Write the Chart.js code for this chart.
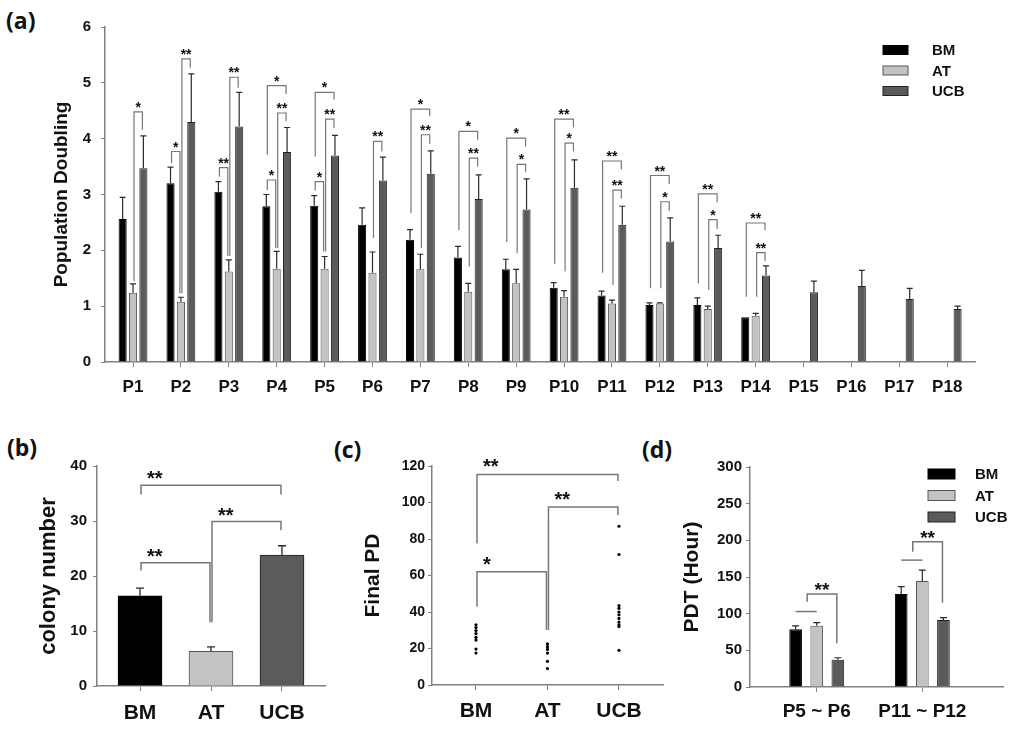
<!DOCTYPE html>
<html>
<head>
<meta charset="utf-8">
<script src="https://cdn.jsdelivr.net/npm/chart.js@4.4.1/dist/chart.umd.min.js"></script>
<style>
  body { margin: 0; background: #fff; width: 1024px; height: 730px; overflow: hidden; position: relative; }
  canvas { position: absolute; }
  .tag { position: absolute; font: bold 23px "Open Sans", "DejaVu Sans", sans-serif; line-height: 23px; color: #111; }
</style>
</head>
<body>
<div class="tag" style="left:6px;top:9px">(a)</div>
<div class="tag" style="left:7px;top:436px">(b)</div>
<div class="tag" style="left:334px;top:438px">(c)</div>
<div class="tag" style="left:642px;top:438px">(d)</div>

<canvas id="pdChart" width="1024" height="400" style="left:0;top:0;width:1024px;height:400px"></canvas>
<canvas id="colonyChart" width="335" height="330" style="left:0;top:400px;width:335px;height:330px"></canvas>
<canvas id="finalChart" width="340" height="330" style="left:335px;top:400px;width:340px;height:330px"></canvas>
<canvas id="pdtChart" width="349" height="330" style="left:675px;top:400px;width:349px;height:330px"></canvas>

<script>
// (a) population doubling per passage
const passages = ["P1", "P2", "P3", "P4", "P5", "P6", "P7", "P8", "P9", "P10", "P11", "P12", "P13", "P14", "P15", "P16", "P17", "P18"]
const bmPD = [2.56, 3.20, 3.05, 2.79, 2.80, 2.46, 2.19, 1.87, 1.66, 1.33, 1.19, 1.02, 1.02, 0.80, null, null, null, null]
const bmSD = [0.39, 0.29, 0.18, 0.21, 0.18, 0.30, 0.18, 0.20, 0.18, 0.09, 0.08, 0.04, 0.13, 0, null, null, null, null]
const atPD = [1.24, 1.08, 1.62, 1.67, 1.67, 1.60, 1.66, 1.26, 1.41, 1.17, 1.05, 1.05, 0.95, 0.83, null, null, null, null]
const atSD = [0.16, 0.08, 0.21, 0.31, 0.22, 0.37, 0.27, 0.15, 0.25, 0.11, 0.06, 0.01, 0.05, 0.04, null, null, null, null]
const ucbPD = [3.47, 4.30, 4.22, 3.76, 3.70, 3.25, 3.37, 2.92, 2.73, 3.12, 2.46, 2.16, 2.04, 1.55, 1.25, 1.36, 1.13, 0.95]
const ucbSD = [0.58, 0.86, 0.61, 0.44, 0.36, 0.42, 0.41, 0.43, 0.55, 0.50, 0.33, 0.42, 0.23, 0.17, 0.20, 0.28, 0.19, 0.05]
const pdTicks = [0, 1, 2, 3, 4, 5, 6]
// significance brackets: passage, from series, to series (0 BM, 1 AT, 2 UCB), top, from end, to end, mark
const pdSig = [
  [1, 1, 2, 4.48, 1.45, 4.16, "*"],
  [2, 0, 1, 3.77, 3.56, 1.23, "*"],
  [2, 1, 2, 5.43, 1.23, 5.27, "**"],
  [3, 0, 1, 3.48, 3.32, 1.90, "**"],
  [3, 1, 2, 5.10, 1.90, 4.91, "**"],
  [4, 0, 2, 4.95, 3.71, 4.80, "*"],
  [4, 1, 2, 4.46, 2.04, 4.31, "**"],
  [4, 0, 1, 3.26, 3.08, 2.04, "*"],
  [5, 0, 2, 4.83, 3.68, 4.70, "*"],
  [5, 1, 2, 4.35, 1.98, 4.19, "**"],
  [5, 0, 1, 3.23, 3.07, 1.98, "*"],
  [6, 1, 2, 3.95, 2.22, 3.77, "**"],
  [7, 0, 2, 4.53, 2.67, 4.40, "*"],
  [7, 1, 2, 4.07, 2.04, 3.91, "**"],
  [8, 0, 2, 4.13, 2.36, 3.98, "*"],
  [8, 1, 2, 3.65, 1.71, 3.50, "**"],
  [9, 0, 2, 4.01, 2.15, 3.86, "*"],
  [9, 1, 2, 3.54, 1.95, 3.40, "*"],
  [10, 0, 2, 4.35, 1.76, 4.20, "**"],
  [10, 1, 2, 3.92, 1.62, 3.77, "*"],
  [11, 0, 2, 3.60, 1.60, 3.45, "**"],
  [11, 1, 2, 3.08, 1.38, 2.93, "**"],
  [12, 0, 2, 3.34, 1.32, 3.19, "**"],
  [12, 1, 2, 2.87, 1.32, 2.71, "*"],
  [13, 0, 2, 3.01, 1.41, 2.86, "**"],
  [13, 1, 2, 2.55, 1.29, 2.38, "*"],
  [14, 0, 2, 2.49, 1.17, 2.36, "**"],
  [14, 1, 2, 1.96, 1.17, 1.81, "**"]
]

// (b) colony number
const cellTypes = ["BM", "AT", "UCB"]
const colonyMean = [16.4, 6.3, 23.8]
const colonySD = [1.4, 0.8, 1.7]
const colonySig = [
  [1, 3, 36.5, 34.8, 34.8, "**"],
  [2, 3, 29.9, 11.6, 28.3, "**"],
  [1, 2, 22.4, 21.0, 11.6, "**"]
]

// (c) final PD, one dot per donor
const bmFinal = [33, 31.5, 29.8, 28.1, 26.1, 24.6, 19.7, 17.5]
const atFinal = [22.5, 21, 19.5, 17.5, 13, 9]
const ucbFinal = [87, 71.5, 43.5, 42, 40, 38.5, 36.5, 34.5, 33, 32, 19]
const finalSig = [
  [1, 3, 115.4, 77.5, 111.8, "**"],
  [2, 3, 97.6, 30.1, 93.0, "**"],
  [1, 2, 62.0, 42.9, 30.1, "*"]
]

// (d) population doubling time
const pdtRanges = ["P5 ~ P6", "P11 ~ P12"]
const bmPDT = [78.8, 126.9]
const bmPDTsd = [4.6, 9.9]
const atPDT = [83.4, 144.5]
const atPDTsd = [4.5, 15.0]
const ucbPDT = [37.2, 91.5]
const ucbPDTsd = [2.7, 3.2]
// group lines (BM-AT pooled) and brackets; series 0.5 = between BM and AT
const pdtLines = [[1, 0, 1, 102.9], [2, 0, 1, 173]]
const pdtSig = [
  [1, 0.5, 2, 126.9, 116.4, 59.8, "**"],
  [2, 0.5, 2, 198, 184.4, 115, "**"]
]

const AXIS = "#808080"
const INK = "#111111"
const BRACKET = "#777777"
const BM_COLOR = "#000000"
const AT_COLOR = "#c3c3c3"
const UCB_COLOR = "#5b5b5b"

Chart.defaults.font.family = '"Liberation Sans", Arial, sans-serif'
Chart.defaults.color = INK
Chart.defaults.animation = false

const toXY = (arr) => arr.map((v, i) => ({ x: i + 1, y: v }))
const atX = (x) => (v) => ({ x: x, y: v })

function xAxis(labels, min, max, size, pad, height) {
  return {
    type: "linear",
    min: min,
    max: max,
    offset: false,
    grid: { drawOnChartArea: false, tickLength: 5, color: AXIS, offset: false },
    border: { color: AXIS, width: 1.5 },
    afterBuildTicks: (ax) => { ax.ticks = labels.map((_, i) => ({ value: i + 1 })) },
    ticks: { autoSkip: false, maxRotation: 0, padding: pad, font: { size: size, weight: "bold" }, callback: (v) => labels[v - 1] },
    afterFit: (ax) => { ax.height = height }
  }
}

function yAxis(ticks, title, titleSize, titleX, width, tickSize, pad) {
  return {
    min: ticks[0],
    max: ticks[ticks.length - 1],
    grid: { drawOnChartArea: false, tickLength: 4, color: AXIS },
    border: { color: AXIS, width: 1.5 },
    afterBuildTicks: (ax) => { ax.ticks = ticks.map((v) => ({ value: v })) },
    ticks: { padding: pad, font: { size: tickSize, weight: "bold" } },
    title: { display: true, text: title, font: { size: titleSize, weight: "bold" }, padding: { top: titleX - titleSize * 0.6, bottom: 0 } },
    afterFit: (ax) => { ax.width = width }
  }
}

// error bars, brackets and legend drawn over the datasets
function decor(cfg) {
  return {
    id: "decor",
    afterDatasetsDraw(chart) {
      const ctx = chart.ctx
      const ys = chart.scales.y
      ctx.save()

      chart.data.datasets.forEach((ds, di) => {
        if (!ds.sd) return
        chart.getDatasetMeta(di).data.forEach((el, i) => {
          const m = ds.data[i].y
          const s = ds.sd[i]
          if (m == null || !s) return
          const yt = ys.getPixelForValue(m + s)
          ctx.strokeStyle = "#2a2a2a"
          ctx.lineWidth = cfg.errWidth
          ctx.beginPath()
          ctx.moveTo(el.x, el.y)
          ctx.lineTo(el.x, yt)
          ctx.moveTo(el.x - cfg.cap / 2, yt)
          ctx.lineTo(el.x + cfg.cap / 2, yt)
          ctx.stroke()
        })
      })

      ctx.strokeStyle = BRACKET
      ctx.lineWidth = cfg.lineWidth
      ;(cfg.lines || []).forEach((l) => {
        const y = ys.getPixelForValue(l.y)
        ctx.beginPath()
        ctx.moveTo(cfg.legX(chart, l.group, l.from), y)
        ctx.lineTo(cfg.legX(chart, l.group, l.to), y)
        ctx.stroke()
      })

      ctx.fillStyle = INK
      ctx.font = "bold " + cfg.starSize + 'px "Liberation Sans", Arial, sans-serif'
      ctx.textBaseline = "alphabetic"
      cfg.brackets.forEach((b) => {
        const xa = cfg.legX(chart, b.group, b.from) + 1
        const xb = cfg.legX(chart, b.group, b.to) - 1
        const yt = ys.getPixelForValue(b.top)
        ctx.beginPath()
        ctx.moveTo(xa, ys.getPixelForValue(b.fromEnd))
        ctx.lineTo(xa, yt)
        ctx.lineTo(xb, yt)
        ctx.lineTo(xb, ys.getPixelForValue(b.toEnd))
        ctx.stroke()
        if (cfg.labelAlign === "left") {
          ctx.textAlign = "left"
          ctx.fillText(b.label, xa + 6, yt + cfg.starDy)
        } else {
          ctx.textAlign = "center"
          ctx.fillText(b.label, (xa + xb) / 2, yt + cfg.starDy)
        }
      })

      if (cfg.legend) {
        const L = cfg.legend
        ctx.font = "bold " + L.size + 'px "Liberation Sans", Arial, sans-serif'
        ctx.textAlign = "left"
        ctx.textBaseline = "middle"
        chart.data.datasets.forEach((ds, i) => {
          const cy = L.y + i * L.dy
          ctx.fillStyle = ds.backgroundColor
          ctx.fillRect(L.x, cy - L.h / 2, L.w, L.h)
          ctx.strokeStyle = ds.borderColor
          ctx.lineWidth = 1
          ctx.strokeRect(L.x, cy - L.h / 2, L.w, L.h)
          ctx.fillStyle = INK
          ctx.fillText(ds.label, L.textX, cy + 1)
        })
      }
      ctx.restore()
    }
  }
}

const sig = (rows) => rows.map((r) => ({ group: r[0], from: r[1], to: r[2], top: r[3], fromEnd: r[4], toEnd: r[5], label: r[6] }))

// x of the bar of a series within a group; fractional series = between two bars
function barX(chart, group, series) {
  const lo = Math.floor(series)
  const hi = Math.ceil(series)
  const xl = chart.getDatasetMeta(lo).data[group - 1].x
  const xh = chart.getDatasetMeta(hi).data[group - 1].x
  return xl + (xh - xl) * (series - lo)
}

function barSet(label, values, sd, fill, border) {
  return { label: label, data: toXY(values), sd: sd, backgroundColor: fill, borderColor: border, borderWidth: 1 }
}

// (a)
new Chart(document.getElementById("pdChart"), {
  type: "bar",
  data: {
    datasets: [
      barSet("BM", bmPD, bmSD, BM_COLOR, "#000000"),
      barSet("AT", atPD, atSD, AT_COLOR, "#555555"),
      barSet("UCB", ucbPD, ucbSD, UCB_COLOR, "#222222")
    ]
  },
  options: {
    responsive: false,
    categoryPercentage: 0.65,
    barPercentage: 0.78,
    layout: { padding: { top: 27, right: 49, left: 0, bottom: 0 } },
    plugins: { legend: { display: false }, tooltip: { enabled: false } },
    scales: {
      x: xAxis(passages, 0.415, 18.58, 17, 10, 38),
      y: yAxis(pdTicks, "Population Doubling", 19, 62, 105, 15, 10)
    }
  },
  plugins: [decor({
    errWidth: 1.2, cap: 6, lineWidth: 1.2, starSize: 14, starDy: 0, labelAlign: "center",
    legX: barX,
    brackets: sig(pdSig),
    legend: { x: 883, y: 50, dy: 20.5, w: 25, h: 9, textX: 932, size: 15 }
  })]
})

// (b)
new Chart(document.getElementById("colonyChart"), {
  type: "bar",
  data: {
    datasets: [{
      label: "colony number",
      data: toXY(colonyMean),
      sd: colonySD,
      backgroundColor: [BM_COLOR, AT_COLOR, UCB_COLOR],
      borderColor: ["#000000", "#555555", "#222222"],
      borderWidth: 1,
      barThickness: 44
    }]
  },
  options: {
    responsive: false,
    layout: { padding: { top: 66, right: 10, left: 0, bottom: 0 } },
    plugins: { legend: { display: false }, tooltip: { enabled: false } },
    scales: {
      x: xAxis(cellTypes, 0.394, 3.606, 21, 10, 44),
      y: yAxis([0, 10, 20, 30, 40], "colony number", 22, 49, 97, 15, 6)
    }
  },
  plugins: [decor({
    errWidth: 1.3, cap: 8, lineWidth: 1.5, starSize: 20, starDy: 0, labelAlign: "left",
    legX: (chart, group, i) => chart.getDatasetMeta(0).data[i - 1].x,
    brackets: colonySig.map((r) => ({ group: 0, from: r[0], to: r[1], top: r[2], fromEnd: r[3], toEnd: r[4], label: r[5] }))
  })]
})

// (c)
function dotSet(label, values, x) {
  return { label: label, data: values.map(atX(x)), pointRadius: 1.6, pointBackgroundColor: "#000", pointBorderWidth: 0, borderColor: "#000" }
}
new Chart(document.getElementById("finalChart"), {
  type: "scatter",
  data: {
    datasets: [
      dotSet("BM", bmFinal, 1),
      dotSet("AT", atFinal, 2),
      dotSet("UCB", ucbFinal, 3)
    ]
  },
  options: {
    responsive: false,
    layout: { padding: { top: 66, right: 12, left: 0, bottom: 0 } },
    plugins: { legend: { display: false }, tooltip: { enabled: false } },
    scales: {
      x: xAxis(cellTypes, 0.385, 3.616, 21, 9, 45),
      y: yAxis([0, 20, 40, 60, 80, 100, 120], "Final PD", 21, 38, 97, 14, 3)
    }
  },
  plugins: [decor({
    errWidth: 1, cap: 0, lineWidth: 1.5, starSize: 20, starDy: -1, labelAlign: "left",
    legX: (chart, group, i) => chart.scales.x.getPixelForValue(i),
    brackets: finalSig.map((r) => ({ group: 0, from: r[0], to: r[1], top: r[2], fromEnd: r[3], toEnd: r[4], label: r[5] }))
  })]
})

// (d)
new Chart(document.getElementById("pdtChart"), {
  type: "bar",
  data: {
    datasets: [
      barSet("BM", bmPDT, bmPDTsd, BM_COLOR, "#000000"),
      barSet("AT", atPDT, atPDTsd, AT_COLOR, "#555555"),
      barSet("UCB", ucbPDT, ucbPDTsd, UCB_COLOR, "#222222")
    ]
  },
  options: {
    responsive: false,
    categoryPercentage: 0.6,
    barPercentage: 0.6,
    layout: { padding: { top: 67, right: 21, left: 0, bottom: 0 } },
    plugins: { legend: { display: false }, tooltip: { enabled: false } },
    scales: {
      x: xAxis(pdtRanges, 0.368, 2.764, 19, 8, 43),
      y: yAxis([0, 50, 100, 150, 200, 250, 300], "PDT (Hour)", 21, 17, 75, 15, 4)
    }
  },
  plugins: [decor({
    errWidth: 1.2, cap: 7, lineWidth: 1.5, starSize: 19, starDy: 2, labelAlign: "center",
    legX: barX,
    lines: pdtLines.map((r) => ({ group: r[0], from: r[1], to: r[2], y: r[3] })),
    brackets: sig(pdtSig),
    legend: { x: 253, y: 74, dy: 21.5, w: 27, h: 10, textX: 300, size: 15 }
  })]
})
</script>
</body>
</html>
